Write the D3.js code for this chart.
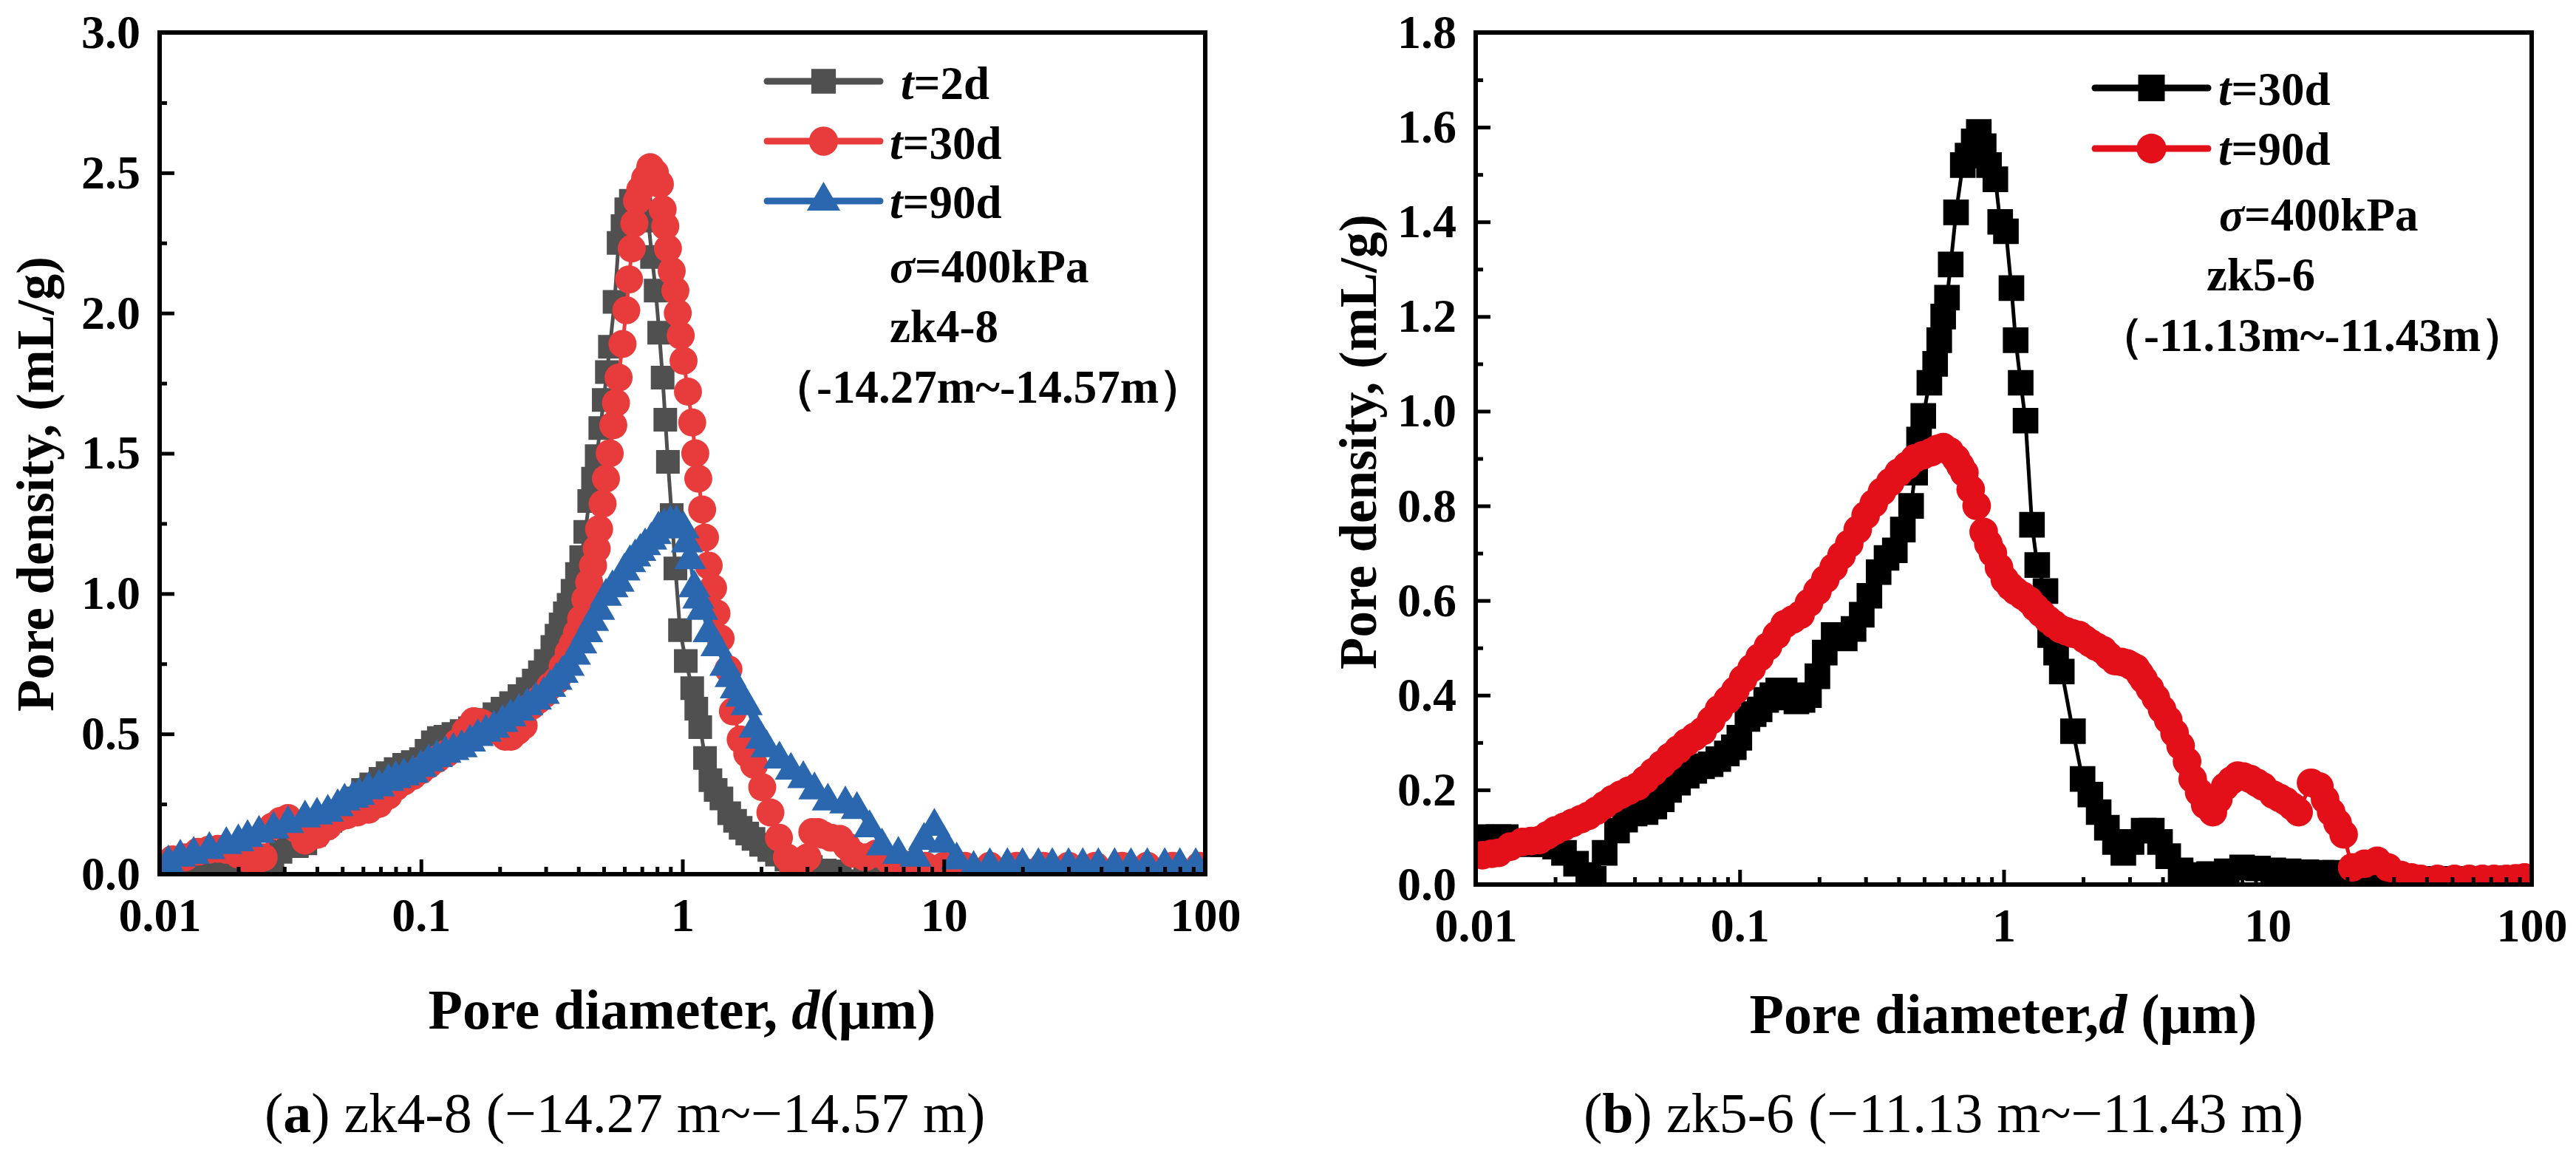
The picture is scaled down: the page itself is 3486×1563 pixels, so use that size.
<!DOCTYPE html>
<html>
<head>
<meta charset="utf-8">
<script src="https://cdn.jsdelivr.net/npm/d3@7"></script>
<style>
  body { margin: 0; background: #fff; }
  text { font-family: "Liberation Serif", "Times New Roman", serif; fill: #000; }
</style>
</head>
<body>
<div id="chart"></div>
<script>
var svgWidth = 3486;
var svgHeight = 1563;

// shared log x axis
var xMajorTicks = [0.01, 0.1, 1, 10, 100];
var xTickLabels = ["0.01", "0.1", "1", "10", "100"];

// y ticks
var yTicksA = [0, 0.5, 1.0, 1.5, 2.0, 2.5, 3.0];
var yMinorA = [0.25, 0.75, 1.25, 1.75, 2.25, 2.75];
var yTicksB = [0, 0.2, 0.4, 0.6, 0.8, 1.0, 1.2, 1.4, 1.6, 1.8];
var yMinorB = [0.1, 0.3, 0.5, 0.7, 0.9, 1.1, 1.3, 1.5, 1.7];

// (a) zk4-8 : [diameter um, pore density mL/g]
var a_t2d = [[0.0105,0.02],[0.0122,0.02],[0.0135,0.03],[0.0148,0.04],[0.0163,0.03],[0.018,0.02],[0.02,0.02],[0.0217,0.02],
  [0.024,0.03],[0.027,0.05],[0.029,0.08],[0.0312,0.1],[0.0335,0.1],[0.0361,0.11],[0.039,0.14],[0.0417,0.165],[0.045,0.19],
  [0.0482,0.22],[0.052,0.245],[0.0557,0.27],[0.06,0.3],[0.0645,0.32],[0.07,0.34],[0.0745,0.36],[0.08,0.375],[0.0862,0.39],
  [0.093,0.4],[0.1,0.41],[0.105,0.44],[0.111,0.47],[0.117,0.485],[0.124,0.49],[0.133,0.5],[0.143,0.51],[0.154,0.52],
  [0.166,0.53],[0.178,0.55],[0.191,0.57],[0.205,0.59],[0.221,0.61],[0.238,0.635],[0.256,0.66],[0.27,0.69],[0.285,0.72],
  [0.3,0.76],[0.318,0.81],[0.33,0.85],[0.342,0.89],[0.355,0.93],[0.367,0.96],[0.38,1.01],[0.395,1.07],[0.41,1.13],
  [0.425,1.22],[0.44,1.33],[0.455,1.41],[0.47,1.49],[0.485,1.59],[0.5,1.69],[0.514,1.79],[0.528,1.88],[0.55,2.04],
  [0.57,2.25],[0.59,2.31],[0.61,2.37],[0.635,2.4],[0.66,2.39],[0.69,2.37],[0.74,2.33],[0.765,2.2],[0.79,2.08],
  [0.815,1.93],[0.84,1.77],[0.86,1.62],[0.88,1.47],[0.91,1.28],[0.94,1.09],[0.979,0.87],[1.03,0.76],
  [1.09,0.663],[1.13,0.59],[1.17,0.524],[1.22,0.414],[1.28,0.335],[1.34,0.3],[1.41,0.27],[1.51,0.217],[1.59,0.19],
  [1.67,0.165],[1.77,0.145],[1.87,0.126],[2.0,0.105],[2.15,0.086],[2.3,0.07],[2.5,0.052],[2.8,0.038],[3.1,0.026],
  [3.5,0.013],[4.0,0.01],[5,0.012],[6,0.012],[7.5,0.012],[9,0.012],[11,0.012],[14,0.012],[18,0.012],[23,0.012],
  [30,0.012],[40,0.012],[55,0.012],[75,0.012],[95,0.015]];

var a_t30d = [[0.0105,0.03],[0.0112,0.053],[0.0125,0.06],[0.014,0.08],[0.0154,0.087],[0.0167,0.09],[0.018,0.087],
  [0.02,0.07],[0.022,0.053],[0.0235,0.05],[0.025,0.06],[0.027,0.17],[0.029,0.19],[0.031,0.2],[0.0335,0.16],[0.036,0.12],
  [0.04,0.14],[0.044,0.17],[0.048,0.2],[0.052,0.21],[0.057,0.22],[0.063,0.23],[0.069,0.25],[0.075,0.28],[0.08,0.31],
  [0.086,0.33],[0.093,0.35],[0.1,0.37],[0.107,0.39],[0.115,0.41],[0.125,0.43],[0.138,0.47],[0.148,0.51],[0.159,0.545],
  [0.17,0.54],[0.178,0.53],[0.188,0.52],[0.198,0.51],[0.21,0.49],[0.221,0.49],[0.234,0.51],[0.247,0.53],[0.265,0.6],
  [0.28,0.62],[0.295,0.64],[0.312,0.67],[0.33,0.69],[0.348,0.74],[0.367,0.79],[0.38,0.82],[0.395,0.86],[0.41,0.91],
  [0.425,0.98],[0.44,1.04],[0.455,1.1],[0.47,1.16],[0.48,1.23],[0.495,1.32],[0.51,1.41],[0.527,1.5],[0.544,1.6],
  [0.557,1.68],[0.57,1.77],[0.59,1.89],[0.61,2.01],[0.625,2.12],[0.64,2.23],[0.655,2.32],[0.67,2.4],[0.69,2.44],
  [0.72,2.48],[0.753,2.52],[0.785,2.5],[0.82,2.46],[0.84,2.37],[0.86,2.31],[0.88,2.23],[0.91,2.15],
  [0.94,2.08],[0.96,2.0],[0.985,1.92],[1.01,1.83],[1.05,1.72],[1.09,1.61],[1.12,1.5],[1.15,1.41],[1.19,1.3],
  [1.22,1.2],[1.26,1.1],[1.31,1.02],[1.35,0.93],[1.4,0.84],[1.5,0.73],[1.56,0.58],[1.67,0.48],[1.77,0.43],[1.88,0.39],
  [2.02,0.31],[2.17,0.22],[2.34,0.13],[2.51,0.06],[2.65,0.02],[2.85,0.04],[3.01,0.06],[3.14,0.15],[3.3,0.15],
  [3.45,0.14],[3.7,0.13],[4.0,0.126],[4.25,0.1],[4.5,0.073],[5.0,0.06],[5.5,0.073],[6.2,0.047],[7.2,0.034],[8.5,0.03],
  [10,0.03],[12,0.03],[15,0.03],[19,0.03],[24,0.03],[30,0.03],[38,0.03],[48,0.03],[60,0.03],[75,0.03],[95,0.03]];

var a_t90d = [[0.0108,0.04],[0.012,0.06],[0.0135,0.07],[0.0155,0.087],[0.018,0.105],[0.02,0.115],[0.0217,0.13],
  [0.024,0.145],[0.0273,0.16],[0.031,0.18],[0.036,0.2],[0.04,0.21],[0.044,0.22],[0.048,0.24],[0.051,0.26],[0.055,0.27],
  [0.058,0.28],[0.063,0.3],[0.069,0.31],[0.075,0.33],[0.08,0.34],[0.086,0.35],[0.093,0.36],[0.1,0.38],[0.107,0.4],
  [0.115,0.415],[0.124,0.43],[0.133,0.44],[0.143,0.45],[0.154,0.47],[0.165,0.49],[0.177,0.505],[0.19,0.52],[0.205,0.54],
  [0.22,0.56],[0.237,0.58],[0.255,0.6],[0.275,0.62],[0.295,0.64],[0.312,0.665],[0.33,0.69],[0.348,0.715],[0.367,0.74],
  [0.388,0.78],[0.41,0.82],[0.432,0.86],[0.455,0.9],[0.48,0.94],[0.51,0.99],[0.54,1.02],[0.57,1.04],[0.6,1.08],
  [0.63,1.11],[0.66,1.13],[0.69,1.15],[0.72,1.17],[0.76,1.19],[0.79,1.21],[0.81,1.23],[0.85,1.24],[0.9,1.25],
  [0.95,1.25],[1.01,1.23],[1.04,1.18],[1.07,1.12],[1.11,1.02],[1.15,0.98],[1.19,0.94],[1.26,0.86],[1.35,0.81],
  [1.46,0.74],[1.53,0.7],[1.6,0.66],[1.68,0.63],[1.76,0.6],[1.89,0.52],[2.0,0.48],[2.1,0.45],[2.35,0.41],[2.6,0.37],
  [2.9,0.34],[3.2,0.3],[3.6,0.26],[4.2,0.25],[4.65,0.23],[5.2,0.165],[5.8,0.1],[6.7,0.07],[7.8,0.06],[8.4,0.12],
  [9.2,0.17],[10.0,0.11],[11.2,0.05],[13,0.02],[15,0.03],[17.5,0.03],[20,0.03],[23,0.03],[26,0.03],[30,0.03],
  [34,0.03],[39,0.03],[45,0.03],[52,0.03],[60,0.03],[70,0.03],[80,0.03],[92,0.03]];

// (b) zk5-6
var b_t30d = [[0.0105,0.1],[0.011,0.098],[0.0122,0.1],[0.013,0.1],[0.0145,0.09],[0.016,0.085],[0.018,0.085],[0.02,0.08],
  [0.0216,0.067],[0.024,0.044],[0.0267,0.02],[0.028,0.012],[0.0308,0.067],[0.0343,0.114],[0.0368,0.137],[0.04,0.15],
  [0.044,0.153],[0.0475,0.165],[0.0507,0.18],[0.054,0.2],[0.0584,0.215],[0.063,0.23],[0.0673,0.24],[0.072,0.25],
  [0.0776,0.254],[0.083,0.265],[0.0894,0.277],[0.095,0.29],[0.0997,0.31],[0.107,0.35],[0.113,0.36],[0.119,0.37],
  [0.126,0.39],[0.133,0.4],[0.14,0.41],[0.148,0.41],[0.156,0.395],[0.164,0.387],[0.173,0.39],[0.183,0.4],[0.197,0.44],
  [0.21,0.49],[0.227,0.527],[0.238,0.525],[0.25,0.52],[0.27,0.54],[0.29,0.57],[0.31,0.61],[0.336,0.66],[0.36,0.69],
  [0.387,0.706],[0.415,0.75],[0.446,0.8],[0.462,0.87],[0.478,0.94],[0.496,0.99],[0.523,1.06],[0.55,1.1],[0.57,1.15],
  [0.59,1.2],[0.61,1.24],[0.63,1.31],[0.66,1.42],[0.7,1.52],[0.73,1.54],[0.77,1.57],[0.805,1.59],[0.84,1.56],
  [0.88,1.52],[0.93,1.49],[0.97,1.4],[1.02,1.38],[1.07,1.26],[1.11,1.15],[1.16,1.06],[1.21,0.98],[1.28,0.76],
  [1.34,0.675],[1.44,0.62],[1.5,0.527],[1.58,0.49],[1.66,0.45],[1.83,0.324],[1.99,0.223],[2.13,0.19],[2.29,0.153],
  [2.46,0.12],[2.64,0.09],[2.84,0.067],[3.05,0.09],[3.39,0.114],[3.64,0.114],[3.91,0.09],[4.2,0.06],[4.68,0.03],
  [5.2,0.02],[6,0.022],[7,0.028],[8,0.036],[9.2,0.034],[10.5,0.03],[12,0.028],[14,0.026],[16,0.025],[18,0.025],
  [21,0.02],[24,0.015],[28,0.012],[33,0.012],[39,0.012],[45,0.012],[53,0.012],[62,0.012],[72,0.012],[83,0.013],[95,0.015]];

var b_t90d = [[0.0106,0.062],[0.0115,0.065],[0.0122,0.067],[0.0135,0.08],[0.015,0.09],[0.0162,0.092],[0.0174,0.094],
  [0.0187,0.104],[0.02,0.114],[0.0216,0.122],[0.0232,0.13],[0.025,0.138],[0.0267,0.145],[0.0287,0.156],[0.0308,0.168],
  [0.033,0.18],[0.0355,0.19],[0.038,0.198],[0.041,0.207],[0.044,0.222],[0.0472,0.238],[0.0508,0.254],[0.0545,0.27],
  [0.0585,0.285],[0.0628,0.3],[0.0675,0.312],[0.0724,0.324],[0.078,0.347],[0.0835,0.37],[0.09,0.39],[0.0963,0.41],
  [0.103,0.434],[0.111,0.457],[0.119,0.48],[0.128,0.503],[0.138,0.527],[0.148,0.55],[0.159,0.56],[0.17,0.57],
  [0.183,0.595],[0.197,0.62],[0.211,0.645],[0.227,0.67],[0.243,0.695],[0.26,0.72],[0.28,0.75],[0.3,0.78],[0.322,0.805],
  [0.346,0.83],[0.372,0.85],[0.4,0.87],[0.43,0.885],[0.46,0.9],[0.495,0.907],[0.53,0.913],[0.56,0.92],[0.59,0.924],
  [0.625,0.915],[0.66,0.9],[0.685,0.885],[0.71,0.87],[0.75,0.835],[0.79,0.8],[0.84,0.745],[0.875,0.72],[0.91,0.7],
  [0.96,0.67],[1.01,0.644],[1.06,0.63],[1.11,0.62],[1.18,0.61],[1.25,0.6],[1.32,0.585],[1.39,0.573],[1.47,0.56],
  [1.55,0.55],[1.64,0.54],[1.73,0.535],[1.83,0.53],[1.93,0.527],[2.03,0.518],[2.13,0.51],[2.25,0.502],[2.38,0.495],
  [2.5,0.483],[2.64,0.472],[2.8,0.47],[2.94,0.467],[3.05,0.462],[3.17,0.457],[3.28,0.445],[3.39,0.433],[3.58,0.414],
  [3.77,0.394],[3.98,0.37],[4.2,0.348],[4.44,0.32],[4.68,0.293],[4.95,0.26],[5.2,0.223],[5.5,0.195],[5.8,0.168],
  [6.2,0.153],[6.5,0.18],[6.9,0.207],[7.3,0.22],[7.7,0.23],[8.1,0.228],[8.6,0.223],[9.1,0.215],[9.6,0.207],
  [10.5,0.19],[11.1,0.183],[11.7,0.176],[12.4,0.165],[13.1,0.153],[14.6,0.215],[15.7,0.207],[16.5,0.18],[17.4,0.153],
  [18.4,0.13],[19.4,0.106],[20.9,0.036],[23.3,0.044],[26,0.05],[28.6,0.036],[32,0.02],[35,0.015],[38,0.012],[44,0.012],
  [51,0.012],[58,0.012],[65,0.012],[72,0.012],[80,0.012],[87,0.013],[94,0.015]];

var svg = d3.select("#chart")
  .append("svg")
  .attr("width", svgWidth)
  .attr("height", svgHeight);

var panels = [
  {
    id: "a", left: 216, right: 1631, top: 44, bottom: 1183, yMax: 3.0,
    yTicks: yTicksA, yMinor: yMinorA,
    series: [
      { name: "2d", data: a_t2d, color: "#505050", symbol: d3.symbolSquare, size: 1024 },
      { name: "30d", data: a_t30d, color: "#E83C3C", symbol: d3.symbolCircle, size: 1130 },
      { name: "90d", data: a_t90d, color: "#2A67AF", symbol: d3.symbolTriangle, size: 820 }
    ],
    legend: { x1: 1038, x2: 1191, rows: [110, 191, 272], textX: [1219, 1204, 1204], base: [134, 215, 295] },
    notes: [
      { x: 1204, y: 382, parts: [["σ", true], ["=400kPa", false]] },
      { x: 1204, y: 463, parts: [["zk4-8", false]] },
      { x: 1042, y: 545, parts: [["（-14.27m~-14.57m）", false]] }
    ],
    xTitle: { x: 923, y: 1392, parts: [["Pore diameter, ", false], ["d", true], ["(μm)", false]] },
    yTitle: { x: 72, y: 347 },
    caption: { x: 358, letter: "a", rest: ") zk4-8 (−14.27 m~−14.57 m)" }
  },
  {
    id: "b", left: 1997, right: 3426, top: 44, bottom: 1197, yMax: 1.8,
    yTicks: yTicksB, yMinor: yMinorB,
    series: [
      { name: "30d", data: b_t30d, color: "#000000", symbol: d3.symbolSquare, size: 1200 },
      { name: "90d", data: b_t90d, color: "#E3101A", symbol: d3.symbolCircle, size: 1180 }
    ],
    legend: { x1: 2835, x2: 2988, rows: [119, 201], textX: [3002, 3002], base: [142, 223] },
    notes: [
      { x: 3003, y: 312, parts: [["σ", true], ["=400kPa", false]] },
      { x: 2986, y: 393, parts: [["zk5-6", false]] },
      { x: 2838, y: 475, parts: [["（-11.13m~-11.43m）", false]] }
    ],
    xTitle: { x: 2711, y: 1398, parts: [["Pore diameter,", false], ["d", true], [" (μm)", false]] },
    yTitle: { x: 1862, y: 290 },
    caption: { x: 2143, letter: "b", rest: ") zk5-6 (−11.13 m~−11.43 m)" }
  }
];

function addParts(textSel, parts) {
  parts.forEach(function(p) {
    textSel.append("tspan")
      .style("font-style", p[1] ? "italic" : "normal")
      .text(p[0]);
  });
}

function drawPanel(p) {
  var x = d3.scaleLog().domain([0.01, 100]).range([p.left, p.right]);
  var y = d3.scaleLinear().domain([0, p.yMax]).range([p.bottom, p.top]);

  var xMinor = [];
  xMajorTicks.slice(0, -1).forEach(function(dec) {
    for (var m = 2; m <= 9; m++) xMinor.push(dec * m);
  });

  svg.append("clipPath").attr("id", "clip-" + p.id)
    .append("rect")
    .attr("x", p.left).attr("y", p.top)
    .attr("width", p.right - p.left).attr("height", p.bottom - p.top);

  var plot = svg.append("g").attr("clip-path", "url(#clip-" + p.id + ")");

  var line = d3.line().x(d => x(d[0])).y(d => y(d[1]));

  p.series.forEach(function(s) {
    var sg = plot.append("g");
    sg.append("path")
      .datum(s.data)
      .attr("fill", "none")
      .attr("stroke", s.color)
      .attr("stroke-width", 5)
      .attr("stroke-linejoin", "round")
      .attr("d", line);
    sg.selectAll("path.mark")
      .data(s.data)
      .enter()
      .append("path")
      .attr("class", "mark")
      .attr("transform", d => `translate(${x(d[0])},${y(d[1])})`)
      .attr("d", d3.symbol().type(s.symbol).size(s.size))
      .attr("fill", s.color);
  });

  // axes, ticks pointing inward
  svg.append("g")
    .attr("transform", `translate(0, ${p.bottom})`)
    .call(d3.axisBottom(x).tickValues(xMajorTicks).tickFormat((d, i) => xTickLabels[i])
      .tickSizeInner(-20).tickSizeOuter(0).tickPadding(32));
  svg.append("g")
    .attr("transform", `translate(0, ${p.bottom})`)
    .call(d3.axisBottom(x).tickValues(xMinor).tickFormat("").tickSizeInner(-10).tickSizeOuter(0));

  svg.append("g")
    .attr("transform", `translate(${p.left}, 0)`)
    .call(d3.axisLeft(y).tickValues(p.yTicks).tickFormat(d3.format(".1f"))
      .tickSizeInner(-20).tickSizeOuter(0).tickPadding(26));
  svg.append("g")
    .attr("transform", `translate(${p.left}, 0)`)
    .call(d3.axisLeft(y).tickValues(p.yMinor).tickFormat("").tickSizeInner(-10).tickSizeOuter(0));

  svg.selectAll(".domain").remove();
  svg.selectAll(".tick line").attr("stroke", "#000").attr("stroke-width", 5);
  svg.selectAll(".tick text")
    .attr("fill", "#000")
    .style("font-family", '"Liberation Serif", "Times New Roman", serif')
    .style("font-size", "64px")
    .style("font-weight", "bold");

  svg.append("rect")
    .attr("x", p.left).attr("y", p.top)
    .attr("width", p.right - p.left).attr("height", p.bottom - p.top)
    .attr("fill", "none")
    .attr("stroke", "#000")
    .attr("stroke-width", 6);

  // legend
  var lg = svg.append("g");
  p.series.forEach(function(s, i) {
    var ly = p.legend.rows[i];
    var cx = (p.legend.x1 + p.legend.x2) / 2;
    lg.append("line")
      .attr("x1", p.legend.x1).attr("x2", p.legend.x2)
      .attr("y1", ly).attr("y2", ly)
      .attr("stroke", s.color)
      .attr("stroke-width", 9)
      .attr("stroke-linecap", "round");
    lg.append("path")
      .attr("transform", `translate(${cx},${ly})`)
      .attr("d", d3.symbol().type(s.symbol).size(s.size * 1.08))
      .attr("fill", s.color);
    var t = lg.append("text")
      .attr("x", p.legend.textX[i])
      .attr("y", p.legend.base[i])
      .style("font-size", "63px")
      .style("font-weight", "bold");
    addParts(t, [["t", true], ["=" + s.name, false]]);
  });

  p.notes.forEach(function(n) {
    var t = lg.append("text")
      .attr("x", n.x).attr("y", n.y)
      .style("font-size", "63px")
      .style("font-weight", "bold");
    addParts(t, n.parts);
  });

  // axis titles
  var xt = svg.append("text")
    .attr("x", p.xTitle.x).attr("y", p.xTitle.y)
    .attr("text-anchor", "middle")
    .style("font-size", "76px")
    .style("font-weight", "bold");
  addParts(xt, p.xTitle.parts);

  svg.append("text")
    .attr("transform", `translate(${p.yTitle.x}, ${p.yTitle.y}) rotate(-90)`)
    .attr("text-anchor", "end")
    .style("font-size", "71px")
    .style("font-weight", "bold")
    .text("Pore density, (mL/g)");

  // caption under the panel
  var cap = svg.append("text")
    .attr("x", p.caption.x).attr("y", 1532)
    .style("font-size", "76px");
  cap.append("tspan").text("(");
  cap.append("tspan").style("font-weight", "bold").text(p.caption.letter);
  cap.append("tspan").text(p.caption.rest);
}

panels.forEach(drawPanel);
</script>
</body>
</html>
